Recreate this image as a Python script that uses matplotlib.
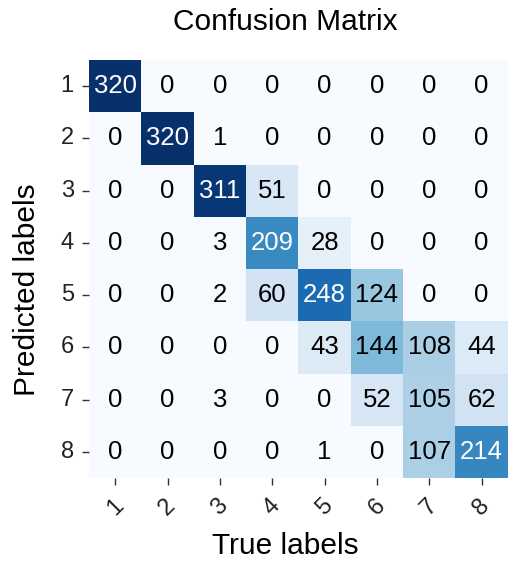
import numpy as np
import matplotlib
matplotlib.use('Agg')
import matplotlib.pyplot as plt
import seaborn as sns

# class labels and confusion matrix counts (rows = predicted, cols = true)
labels = ['1', '2', '3', '4', '5', '6', '7', '8']
row1 = [320, 0, 0, 0, 0, 0, 0, 0]
row2 = [0, 320, 1, 0, 0, 0, 0, 0]
row3 = [0, 0, 311, 51, 0, 0, 0, 0]
row4 = [0, 0, 3, 209, 28, 0, 0, 0]
row5 = [0, 0, 2, 60, 248, 124, 0, 0]
row6 = [0, 0, 0, 0, 43, 144, 108, 44]
row7 = [0, 0, 3, 0, 0, 52, 105, 62]
row8 = [0, 0, 0, 0, 1, 0, 107, 214]

cm = np.array([row1, row2, row3, row4, row5, row6, row7, row8])

plt.rcParams['font.family'] = ['Liberation Sans', 'DejaVu Sans']

fig = plt.figure(figsize=(5.15, 5.67), dpi=100)
ax = fig.add_axes([0.173, 0.157, 0.813, 0.737])
sns.heatmap(cm, annot=True, fmt='d', cmap='Blues', cbar=False, ax=ax,
            annot_kws={'size': 18.5})

# dark annotations are plain black in the original
for t in ax.texts:
    if t.get_color() != 'w':
        t.set_color('black')

ax.set_title('Confusion Matrix', fontsize=21.5, pad=22, x=0.468)
ax.set_xlabel('True labels', fontsize=21.5)
ax.set_ylabel('Predicted labels', fontsize=21.5)
ax.xaxis.set_label_coords(0.468, -0.13)
ax.yaxis.set_label_coords(-0.115, 0.45)
ax.set_xticklabels(labels, rotation=45, fontsize=17)
ax.set_yticklabels(labels, rotation=0, fontsize=17)
ax.tick_params(axis='both', length=5, width=1, color='#333333', labelcolor='#222222')
ax.tick_params(axis='x', pad=7)
ax.tick_params(axis='y', pad=6)

fig.savefig('out.png', dpi=100)
